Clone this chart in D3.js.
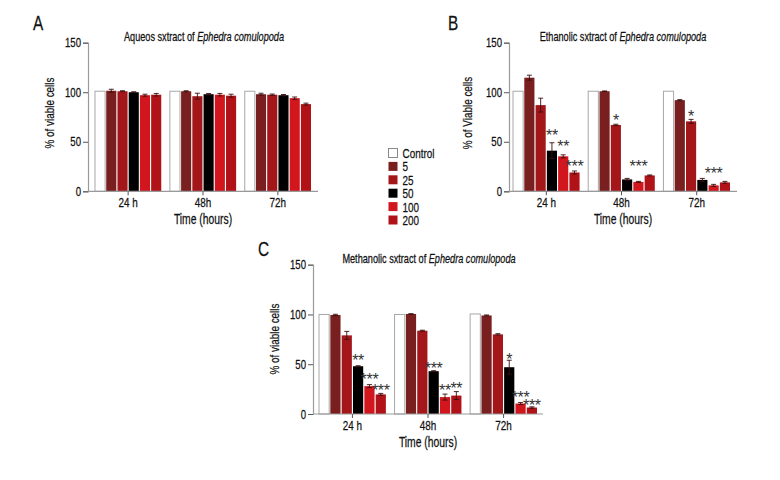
<!DOCTYPE html>
<html><head><meta charset="utf-8">
<script src="https://cdn.jsdelivr.net/npm/d3@7"></script>
<style>
body{margin:0;background:#fff;}
svg{font-family:"Liberation Sans",Arial,sans-serif;}
</style></head><body>
<svg id="chart" width="780" height="480"></svg>
<script>
const groups = ["24 h", "48h", "72h"];
const seriesNames = ["Control", "5", "25", "50", "100", "200"];
const seriesColors = ["#ffffff", "#7a1f1f", "#a3171b", "#000000", "#d1161d", "#b11217"];
const yTicks = [0, 50, 100, 150];

// values[series][group]
const aqueousValues = [
  [101, 101, 101],
  [101.5, 101, 98],
  [101, 96, 97.5],
  [100, 98, 97],
  [97, 97.5, 94],
  [97.5, 96.5, 88]
];
const aqueousErrors = [
  [0, 0, 0],
  [1.5, 0.5, 1],
  [0.5, 3, 0.7],
  [0.5, 0.7, 0.7],
  [1, 1.3, 1.2],
  [1.3, 1.5, 1]
];
const aqueousStars = [];

const ethanolicValues = [
  [101, 101, 101],
  [114.7, 101, 92],
  [87, 67, 70.6],
  [41, 12, 11.5],
  [35.3, 9.5, 6],
  [19, 16, 9]
];
const ethanolicErrors = [
  [0, 0, 0],
  [2.5, 0.3, 0.5],
  [7, 0.7, 2],
  [8, 1, 1.5],
  [1.5, 0.5, 1],
  [1.5, 0.5, 1]
];
// [group, series, text, value level of star centre]
const ethanolicStars = [
  [0, 3, "**", 60], [0, 4, "**", 49], [0, 5, "***", 28.6],
  [1, 2, "*", 75], [1, 4, "***", 29],
  [2, 2, "*", 79], [2, 4, "***", 21.5]
];

const methanolicValues = [
  [100, 100, 100.5],
  [99.5, 100.5, 99],
  [79, 83.7, 80],
  [48, 43, 47],
  [28, 17, 10.5],
  [19.7, 18.5, 6.5]
];
const methanolicErrors = [
  [0, 0, 0],
  [0.7, 0.3, 0.5],
  [4, 0.5, 0.7],
  [0.5, 0.5, 7],
  [1.5, 3, 1],
  [1, 4, 0.7]
];
const methanolicStars = [
  [0, 3, "**", 58], [0, 4, "***", 38.5], [0, 5, "***", 27.4],
  [1, 3, "***", 50], [1, 4, "**", 28], [1, 5, "**", 30],
  [2, 3, "*", 58.6], [2, 4, "***", 20], [2, 5, "***", 12]
];

const panels = [
  {letter:"A", lx:33, ly:30, titleA:"Aqueos sxtract of ", titleB:"Ephedra comulopoda", tx:204, ty:41,
   ylab:"% of viable cells", ylx:54, yly:113,
   ax0:88, ax1:318, bL:95, bR:311, y0:191.3, y150:42.7,
   values:aqueousValues, errors:aqueousErrors, stars:aqueousStars},
  {letter:"B", lx:448, ly:30, titleA:"Ethanolic sxtract of ", titleB:"Ephedra comulopoda", tx:623, ty:41,
   ylab:"% of Viable cells", ylx:472, yly:113,
   ax0:509, ax1:737, bL:513, bR:730, y0:191.3, y150:42.7,
   values:ethanolicValues, errors:ethanolicErrors, stars:ethanolicStars},
  {letter:"C", lx:258, ly:256, titleA:"Methanolic sxtract of ", titleB:"Ephedra comulopoda", tx:429, ty:263,
   ylab:"% of viable cells", ylx:279, yly:339,
   ax0:313, ax1:543, bL:319, bR:537, y0:414, y150:264.7,
   values:methanolicValues, errors:methanolicErrors, stars:methanolicStars}
];

const svg = d3.select("#chart");
const axisColor = "#9a9a9a";
const SX = 0.75; // condensed look

function label(parent, x, y, str, size, anchor, rot) {
  return parent.append("text")
    .attr("transform", `translate(${x},${y})` + (rot ? ` rotate(${rot})` : "") + ` scale(${SX},1)`)
    .attr("text-anchor", anchor || "start")
    .attr("font-size", size).attr("fill", "#111")
    .attr("stroke", "#111").attr("stroke-width", 0.25)
    .text(str);
}

panels.forEach(p => {
  const g = svg.append("g");
  const y = d3.scaleLinear().domain([0,150]).range([p.y0, p.y150]);
  const x = d3.scaleBand().domain(groups).range([p.bL, p.bR]).paddingInner(0.115).paddingOuter(0);
  const xs = d3.scaleBand().domain(d3.range(seriesNames.length)).range([0, x.bandwidth()]).paddingInner(0.1).paddingOuter(0);

  label(g, p.lx, p.ly, p.letter, 20.5, "start");
  const t = label(g, p.tx, p.ty, "", 12.2, "middle");
  t.append("tspan").text(p.titleA);
  t.append("tspan").attr("font-style","italic").text(p.titleB);

  // y axis
  const yAxis = g.append("g").attr("transform", `translate(${p.ax0},0)`)
    .call(d3.axisLeft(y).tickValues(yTicks).tickSize(5).tickFormat(""));
  yAxis.select(".domain").attr("stroke", axisColor).attr("stroke-width", 1.2);
  yAxis.selectAll(".tick line").attr("stroke", "#555");
  yTicks.forEach(v => label(g, p.ax0 - 7, y(v) + 4.5, String(v), 12.8, "end"));

  // bars
  seriesNames.forEach((s, si) => {
    g.append("g").selectAll("rect").data(groups).join("rect")
      .attr("x", (d) => x(d) + xs(si))
      .attr("width", xs.bandwidth())
      .attr("y", (d, gi) => y(p.values[si][gi]))
      .attr("height", (d, gi) => y(0) - y(p.values[si][gi]))
      .attr("fill", seriesColors[si])
      .attr("stroke", si === 0 ? "#a8a8a8" : "none")
      .attr("stroke-width", si === 0 ? 1 : 0);
    const eg = g.append("g").attr("stroke", "#3a1010").attr("stroke-width", 0.9);
    groups.forEach((d, gi) => {
      const e = p.errors[si][gi];
      if (!e) return;
      const cx = x(d) + xs(si) + xs.bandwidth()/2;
      const v = p.values[si][gi];
      eg.append("line").attr("x1", cx).attr("x2", cx).attr("y1", y(v - e)).attr("y2", y(v + e));
      eg.append("line").attr("x1", cx-2.5).attr("x2", cx+2.5).attr("y1", y(v + e)).attr("y2", y(v + e));
      eg.append("line").attr("x1", cx-2.5).attr("x2", cx+2.5).attr("y1", y(v - e)).attr("y2", y(v - e));
    });
  });

  // x axis
  const y0 = y(0);
  g.append("line").attr("x1", p.ax0).attr("x2", p.ax1).attr("y1", y0).attr("y2", y0).attr("stroke", axisColor).attr("stroke-width", 1.2);
  groups.forEach(d => {
    const cx = x(d) + x.bandwidth()/2;
    g.append("line").attr("x1", cx).attr("x2", cx).attr("y1", y0).attr("y2", y0 + 4).attr("stroke", "#555");
    label(g, cx, y0 + 16, d, 13.2, "middle");
  });
  label(g, (p.ax0 + p.ax1)/2, y0 + 33, "Time (hours)", 13.8, "middle");

  // y label
  label(g, p.ylx, p.yly, p.ylab, 13.2, "middle", -90);

  // stars
  p.stars.forEach(d => {
    const cx = x(groups[d[0]]) + xs(d[1]) + xs.bandwidth()/2;
    g.append("text").attr("x", cx).attr("y", y(d[3]) + 9.4)
      .attr("text-anchor","middle").attr("font-size", 16).attr("fill","#333")
      .attr("letter-spacing", -0.3).text(d[2]);
  });
});

// legend
const legend = svg.append("g").attr("transform", "translate(388,148)");
seriesNames.forEach((s, i) => {
  const row = legend.append("g").attr("transform", `translate(0,${i*13.4})`);
  row.append("rect").attr("x", 0.5).attr("y", 0.5).attr("width", 9).attr("height", 9)
    .attr("fill", seriesColors[i]).attr("stroke", i === 0 ? "#888" : "none");
  label(row, 14.5, 10, s, 13.2, "start");
});
</script>
</body></html>
